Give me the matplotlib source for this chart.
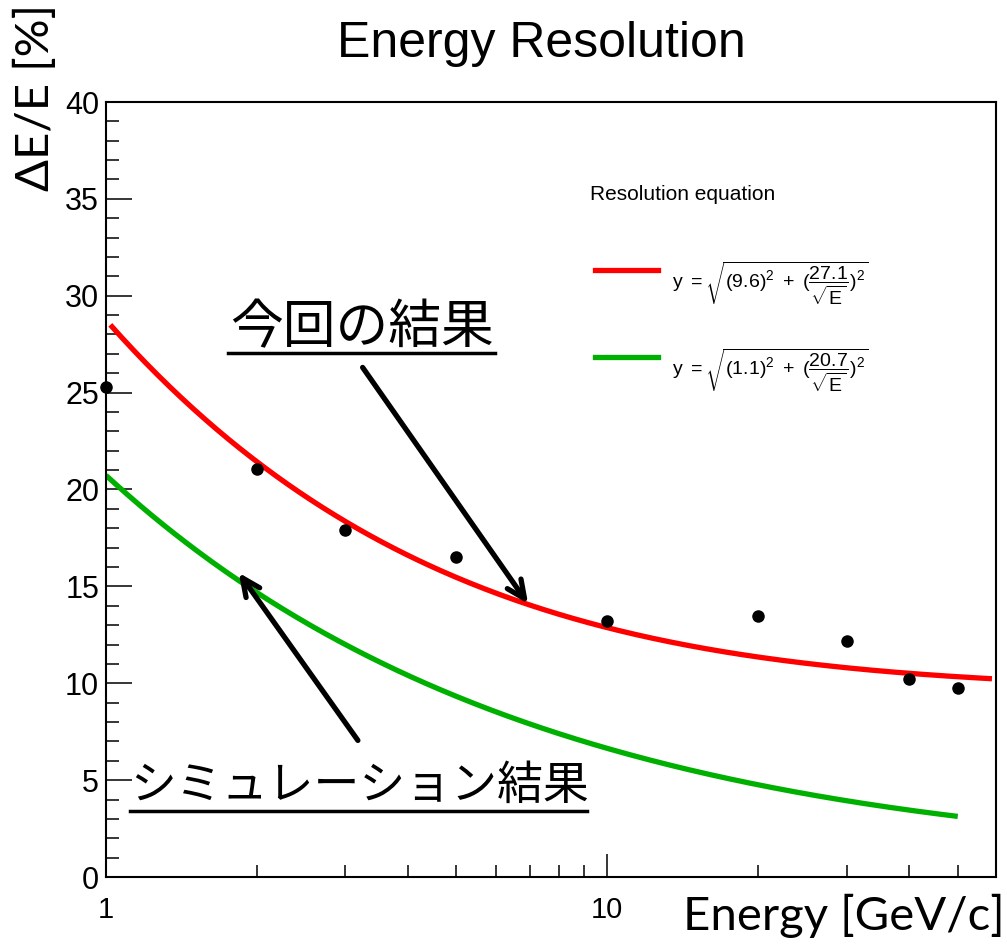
import numpy as np
import matplotlib
matplotlib.use("Agg")
import matplotlib.pyplot as plt
import matplotlib.ticker as tck
from matplotlib.lines import Line2D

plt.rcParams['font.family'] = ['Liberation Sans', 'Noto Sans CJK JP', 'DejaVu Sans']
plt.rcParams['mathtext.fontset'] = 'custom'
plt.rcParams['mathtext.rm'] = 'Liberation Sans'
plt.rcParams['mathtext.it'] = 'Liberation Sans'

# Measured resolution points
energy = [1, 2, 3, 5, 10, 20, 30, 40, 50]
resolution = [25.3, 21.05, 17.9, 16.5, 13.2, 13.45, 12.2, 10.2, 9.75]

# Fit parameters shown in the legend: y = sqrt(a^2 + (b/sqrt(E))^2)
fit_this = (9.6, 27.1)
fit_sim = (1.1, 20.7)
range_this = (1.02, 58.5)
range_sim = (1.0, 50.0)

# Arrow annotations (tail, head) in data coordinates
arrow_this = ((3.25, 26.3), (6.95, 14.1))
arrow_sim = ((3.18, 7.05), (1.84, 15.7))

W, H = 1007, 947
fig = plt.figure(figsize=(W/100, H/100), dpi=100)
ax = fig.add_axes([106/W, 1-877/H, (996-106)/W, (877-102)/H])

def reso(E, p):
    return np.sqrt(p[0]**2 + (p[1]/np.sqrt(E))**2)

e1 = np.geomspace(*range_this, 300)
e2 = np.geomspace(*range_sim, 300)
ax.plot(e1, reso(e1, fit_this), color='#ff0000', lw=3.8, solid_capstyle='butt')
ax.plot(e2, reso(e2, fit_sim), color='#00b000', lw=3.8, solid_capstyle='butt')
ax.plot(energy, resolution, 'o', color='k', ms=8, clip_on=False, zorder=5)

ax.set_xscale('log')
ax.set_xlim(1, 59.6)
ax.set_ylim(0, 40)

for s in ax.spines.values():
    s.set_linewidth(1.5)

ax.xaxis.set_major_locator(tck.FixedLocator([1, 10]))
ax.xaxis.set_major_formatter(tck.FixedFormatter(['1', '10']))
ax.xaxis.set_minor_locator(tck.FixedLocator([2, 3, 4, 5, 6, 7, 8, 9, 20, 30, 40, 50]))
ax.xaxis.set_minor_formatter(tck.NullFormatter())
ax.yaxis.set_major_locator(tck.MultipleLocator(5))
ax.yaxis.set_minor_locator(tck.MultipleLocator(1))

ax.tick_params(axis='y', which='major', direction='in', length=19, width=1.1, labelsize=22, pad=5)
ax.tick_params(axis='y', which='minor', direction='in', length=9.5, width=1.1)
ax.tick_params(axis='x', which='major', direction='in', length=16.5, width=1.1, labelsize=21, pad=14)
ax.tick_params(axis='x', which='minor', direction='in', length=8.5, width=1.1)

# Arrows
for (tail, head) in [arrow_this, arrow_sim]:
    ax.annotate('', xy=head, xytext=tail,
                arrowprops=dict(arrowstyle='->,head_length=1.3,head_width=0.6', color='k', lw=3.8,
                                shrinkA=0, shrinkB=0))

# Titles and axis labels
fig.text(541/W, 1-44/H, 'Energy Resolution', fontsize=36, ha='center', va='center')
fig.text(35/W, 1-97/H, 'ΔE/E [%]', fontsize=34, family='Lato', rotation=90, ha='center', va='center')
fig.text(1005/W, 1-916/H, 'Energy [GeV/c]', fontsize=34, family='Lato', ha='right', va='center')

# Japanese annotations with underline
fig.text(230/W, 1-328/H, '今回の結果', fontsize=38, family=['Noto Sans CJK JP'], ha='left', va='center')
fig.add_artist(Line2D([228/W, 495/W], [1-353/H, 1-353/H], color='k', lw=2.5))
fig.text(130/W, 1-786/H, 'シミュレーション結果', fontsize=33, family=['Noto Sans CJK JP'], ha='left', va='center')
fig.add_artist(Line2D([130/W, 587/W], [1-811/H, 1-811/H], color='k', lw=2.5))

# Legend
fig.text(590/W, 1-195/H, 'Resolution equation', fontsize=15, ha='left', va='center')
fig.add_artist(Line2D([595/W, 658/W], [1-270/H, 1-270/H], color='#ff0000', lw=3.8))
fig.add_artist(Line2D([595/W, 658/W], [1-357/H, 1-357/H], color='#00b000', lw=3.8))
fig.text(672/W, 1-283/H, r'$y\ =\sqrt{(%.1f)^{2}\ +\ (\dfrac{%.1f}{\sqrt{E}})^{2}}$' % fit_this,
         fontsize=14, ha='left', va='center')
fig.text(672/W, 1-370/H, r'$y\ =\sqrt{(%.1f)^{2}\ +\ (\dfrac{%.1f}{\sqrt{E}})^{2}}$' % fit_sim,
         fontsize=14, ha='left', va='center')

fig.savefig('out.png', dpi=100)
